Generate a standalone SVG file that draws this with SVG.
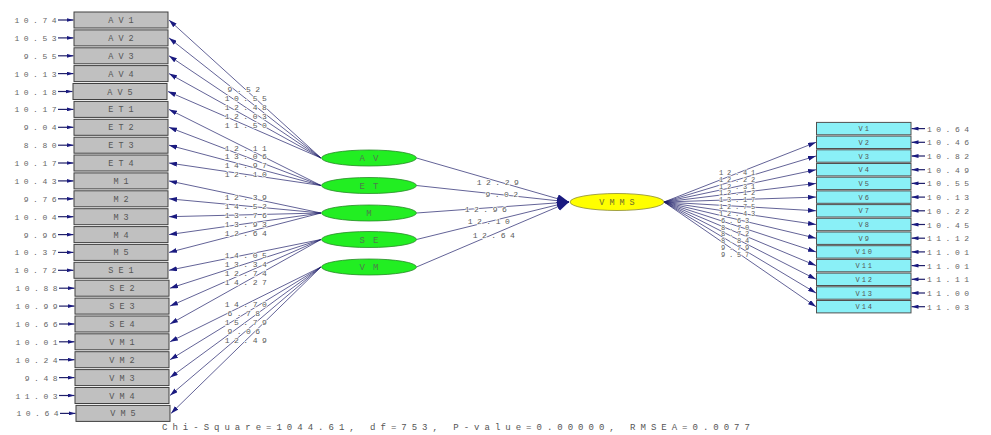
<svg xmlns="http://www.w3.org/2000/svg" width="991" height="435" viewBox="0 0 991 435">
<style>
.bg{fill:#ffffff}
.ob{fill:#c0c0c0;stroke:#404040;stroke-width:1}
.vb{fill:#8af0f7;stroke:#505050;stroke-width:1}
.lv{fill:#22ee22;stroke:#2a8a2a;stroke-width:0.8}
.vm{fill:#ffff00;stroke:#8a8a30;stroke-width:0.8}
.ln{stroke:#20206a;stroke-width:0.7;fill:none;marker-end:url(#ah)}
.lc{stroke:#20206a;stroke-width:0.7;fill:none;marker-end:url(#ahc)}
.le{stroke:#20206a;stroke-width:1.2;fill:none;marker-end:url(#ahe)}
text{font-family:"Liberation Mono","DejaVu Sans Mono",monospace}
.v{font-size:8px;letter-spacing:4.5px;fill:#666666}
.vl{font-size:8px;letter-spacing:4.5px;fill:#5a5a5a;text-anchor:middle;stroke:#ffffff;stroke-width:1.5px;paint-order:stroke}
.vr{font-size:7px;letter-spacing:3.8px;fill:#5a5a5a;text-anchor:middle;stroke:#ffffff;stroke-width:1.2px;paint-order:stroke}
.bt{font-size:8.5px;letter-spacing:5px;fill:#555555;text-anchor:middle}
.rt{font-size:7px;letter-spacing:2px;fill:#555555;text-anchor:middle}
.et{font-size:9px;letter-spacing:8px;fill:#4f7a4f;text-anchor:middle}
.yt{font-size:8.5px;letter-spacing:5px;fill:#6b6b30;text-anchor:middle}
.ft{font-size:9px;letter-spacing:5px;fill:#555555;text-anchor:middle}
</style>
<defs>
<marker id="ah" markerUnits="userSpaceOnUse" markerWidth="8" markerHeight="5" refX="8" refY="2.5" orient="auto"><path d="M0,0 L8,2.5 L0,5 z" fill="#1a1a80"/></marker>
<marker id="ahc" markerUnits="userSpaceOnUse" markerWidth="12" markerHeight="9" refX="12" refY="4.5" orient="auto"><path d="M0,0 L12,4.5 L0,9 z" fill="#1a1a80"/></marker>
<marker id="ahe" markerUnits="userSpaceOnUse" markerWidth="7" markerHeight="4" refX="7" refY="2" orient="auto"><path d="M0,0 L7,2 L0,4 z" fill="#1a1a80"/></marker>
</defs>
<rect class="bg" x="0" y="0" width="991" height="435"/>

<g id="connectors">
<line class="le" x1="58" y1="20" x2="73.5" y2="20"/>
<line class="le" x1="58" y1="37.9" x2="73.5" y2="37.9"/>
<line class="le" x1="58" y1="55.8" x2="73.5" y2="55.8"/>
<line class="le" x1="58" y1="73.6" x2="73.5" y2="73.6"/>
<line class="le" x1="58" y1="91.5" x2="72.5" y2="91.5"/>
<line class="le" x1="58" y1="109.4" x2="73.5" y2="109.4"/>
<line class="le" x1="58" y1="127.3" x2="73.5" y2="127.3"/>
<line class="le" x1="58" y1="145.2" x2="73.5" y2="145.2"/>
<line class="le" x1="58" y1="163" x2="73.5" y2="163"/>
<line class="le" x1="58" y1="180.9" x2="73.5" y2="180.9"/>
<line class="le" x1="58" y1="198.8" x2="73.5" y2="198.8"/>
<line class="le" x1="58" y1="216.7" x2="73.5" y2="216.7"/>
<line class="le" x1="58" y1="234.6" x2="73.5" y2="234.6"/>
<line class="le" x1="58" y1="252.4" x2="73.5" y2="252.4"/>
<line class="le" x1="58" y1="270.3" x2="73.5" y2="270.3"/>
<line class="le" x1="59" y1="288.2" x2="74.5" y2="288.2"/>
<line class="le" x1="59" y1="306.1" x2="74.5" y2="306.1"/>
<line class="le" x1="59" y1="324" x2="74.5" y2="324"/>
<line class="le" x1="59" y1="341.8" x2="74.5" y2="341.8"/>
<line class="le" x1="59" y1="359.7" x2="74.5" y2="359.7"/>
<line class="le" x1="59" y1="377.6" x2="74.5" y2="377.6"/>
<line class="le" x1="59" y1="395.5" x2="74.5" y2="395.5"/>
<line class="le" x1="60" y1="413.4" x2="75.5" y2="413.4"/>
<line class="ln" x1="321" y1="158" x2="169" y2="20"/>
<line class="ln" x1="321" y1="158" x2="169" y2="37.9"/>
<line class="ln" x1="321" y1="158" x2="169" y2="55.8"/>
<line class="ln" x1="321" y1="158" x2="169" y2="73.6"/>
<line class="ln" x1="321" y1="158" x2="168" y2="91.5"/>
<line class="ln" x1="321" y1="185.5" x2="169" y2="109.4"/>
<line class="ln" x1="321" y1="185.5" x2="169" y2="127.3"/>
<line class="ln" x1="321" y1="185.5" x2="169" y2="145.2"/>
<line class="ln" x1="321" y1="185.5" x2="169" y2="163"/>
<line class="ln" x1="321" y1="213" x2="169" y2="180.9"/>
<line class="ln" x1="321" y1="213" x2="169" y2="198.8"/>
<line class="ln" x1="321" y1="213" x2="169" y2="216.7"/>
<line class="ln" x1="321" y1="213" x2="169" y2="234.6"/>
<line class="ln" x1="321" y1="213" x2="169" y2="252.4"/>
<line class="ln" x1="321" y1="239.5" x2="169" y2="270.3"/>
<line class="ln" x1="321" y1="239.5" x2="170" y2="288.2"/>
<line class="ln" x1="321" y1="239.5" x2="170" y2="306.1"/>
<line class="ln" x1="321" y1="239.5" x2="170" y2="324"/>
<line class="ln" x1="321" y1="267" x2="170" y2="341.8"/>
<line class="ln" x1="321" y1="267" x2="170" y2="359.7"/>
<line class="ln" x1="321" y1="267" x2="170" y2="377.6"/>
<line class="ln" x1="321" y1="267" x2="170" y2="395.5"/>
<line class="ln" x1="321" y1="267" x2="171" y2="413.4"/>
<line class="lc" x1="416.5" y1="158" x2="569" y2="202"/>
<line class="lc" x1="416.5" y1="185.5" x2="569" y2="202"/>
<line class="lc" x1="416.5" y1="213" x2="569" y2="202"/>
<line class="lc" x1="416.5" y1="239.5" x2="569" y2="202"/>
<line class="lc" x1="416.5" y1="267" x2="569" y2="202"/>
<line class="ln" x1="664" y1="202" x2="816" y2="142.3"/>
<line class="ln" x1="664" y1="202" x2="816" y2="156"/>
<line class="ln" x1="664" y1="202" x2="816" y2="169.7"/>
<line class="ln" x1="664" y1="202" x2="816" y2="183.4"/>
<line class="ln" x1="664" y1="202" x2="816" y2="197.1"/>
<line class="ln" x1="664" y1="202" x2="816" y2="210.8"/>
<line class="ln" x1="664" y1="202" x2="816" y2="224.5"/>
<line class="ln" x1="664" y1="202" x2="816" y2="238.2"/>
<line class="ln" x1="664" y1="202" x2="816" y2="251.9"/>
<line class="ln" x1="664" y1="202" x2="816" y2="265.6"/>
<line class="ln" x1="664" y1="202" x2="816" y2="279.3"/>
<line class="ln" x1="664" y1="202" x2="816" y2="293"/>
<line class="ln" x1="664" y1="202" x2="816" y2="306.7"/>
<line class="le" x1="925" y1="128.6" x2="911.5" y2="128.6"/>
<line class="le" x1="925" y1="142.3" x2="911.5" y2="142.3"/>
<line class="le" x1="925" y1="156" x2="911.5" y2="156"/>
<line class="le" x1="925" y1="169.7" x2="911.5" y2="169.7"/>
<line class="le" x1="925" y1="183.4" x2="911.5" y2="183.4"/>
<line class="le" x1="925" y1="197.1" x2="911.5" y2="197.1"/>
<line class="le" x1="925" y1="210.8" x2="911.5" y2="210.8"/>
<line class="le" x1="925" y1="224.5" x2="911.5" y2="224.5"/>
<line class="le" x1="925" y1="238.2" x2="911.5" y2="238.2"/>
<line class="le" x1="925" y1="251.9" x2="911.5" y2="251.9"/>
<line class="le" x1="925" y1="265.6" x2="911.5" y2="265.6"/>
<line class="le" x1="925" y1="279.3" x2="911.5" y2="279.3"/>
<line class="le" x1="925" y1="293" x2="911.5" y2="293"/>
<line class="le" x1="925" y1="306.7" x2="911.5" y2="306.7"/>
<text class="vl" x="246" y="92">9.52</text>
<text class="vl" x="248" y="101">10.55</text>
<text class="vl" x="248" y="109.9">12.48</text>
<text class="vl" x="248" y="118.8">12.03</text>
<text class="vl" x="248" y="127.8">11.50</text>
<text class="vl" x="248" y="150.5">12.11</text>
<text class="vl" x="248" y="159.4">13.06</text>
<text class="vl" x="248" y="168.4">14.97</text>
<text class="vl" x="248" y="177.3">12.10</text>
<text class="vl" x="248" y="200">12.39</text>
<text class="vl" x="248" y="208.9">14.52</text>
<text class="vl" x="248" y="217.9">13.76</text>
<text class="vl" x="248" y="226.8">13.93</text>
<text class="vl" x="248" y="235.7">12.64</text>
<text class="vl" x="248" y="257.9">14.05</text>
<text class="vl" x="248" y="266.9">13.34</text>
<text class="vl" x="248" y="275.8">12.74</text>
<text class="vl" x="248" y="284.8">14.27</text>
<text class="vl" x="248" y="307.4">14.70</text>
<text class="vl" x="246" y="316.4">6.78</text>
<text class="vl" x="248" y="325.3">15.79</text>
<text class="vl" x="246" y="334.3">9.06</text>
<text class="vl" x="248" y="343.2">12.49</text>
<text class="vl" x="500" y="184.5">12.29</text>
<text class="vl" x="504" y="197">9.02</text>
<text class="vl" x="488" y="211.5">12.96</text>
<text class="vl" x="491" y="224">12.10</text>
<text class="vl" x="496" y="238">12.64</text>
<text class="vr" x="739" y="174.8">12.41</text>
<text class="vr" x="739" y="181.6">12.22</text>
<text class="vr" x="739" y="188.5">12.31</text>
<text class="vr" x="739" y="195.3">12.12</text>
<text class="vr" x="739" y="202.2">13.17</text>
<text class="vr" x="739" y="209">12.75</text>
<text class="vr" x="739" y="215.9">12.43</text>
<text class="vr" x="737" y="222.7">6.63</text>
<text class="vr" x="737" y="229.6">8.70</text>
<text class="vr" x="737" y="236.4">8.72</text>
<text class="vr" x="737" y="243.3">8.84</text>
<text class="vr" x="737" y="250.1">9.79</text>
<text class="vr" x="737" y="257">9.57</text>
</g>

<g id="AV1"><rect class="ob" x="74" y="12" width="94" height="16"/><text class="bt" x="123.5" y="23">AV1</text><text class="v" x="61" y="23" text-anchor="end">10.74</text></g>
<g id="AV2"><rect class="ob" x="74" y="29.9" width="94" height="16"/><text class="bt" x="123.5" y="40.9">AV2</text><text class="v" x="61" y="40.9" text-anchor="end">10.53</text></g>
<g id="AV3"><rect class="ob" x="74" y="47.8" width="94" height="16"/><text class="bt" x="123.5" y="58.8">AV3</text><text class="v" x="61" y="58.8" text-anchor="end">9.55</text></g>
<g id="AV4"><rect class="ob" x="74" y="65.6" width="94" height="16"/><text class="bt" x="123.5" y="76.6">AV4</text><text class="v" x="61" y="76.6" text-anchor="end">10.13</text></g>
<g id="AV5"><rect class="ob" x="73" y="83.5" width="94" height="16"/><text class="bt" x="122.5" y="94.5">AV5</text><text class="v" x="61" y="94.5" text-anchor="end">10.18</text></g>
<g id="ET1"><rect class="ob" x="74" y="101.4" width="94" height="16"/><text class="bt" x="123.5" y="112.4">ET1</text><text class="v" x="61" y="112.4" text-anchor="end">10.17</text></g>
<g id="ET2"><rect class="ob" x="74" y="119.3" width="94" height="16"/><text class="bt" x="123.5" y="130.3">ET2</text><text class="v" x="61" y="130.3" text-anchor="end">9.04</text></g>
<g id="ET3"><rect class="ob" x="74" y="137.2" width="94" height="16"/><text class="bt" x="123.5" y="148.2">ET3</text><text class="v" x="61" y="148.2" text-anchor="end">8.80</text></g>
<g id="ET4"><rect class="ob" x="74" y="155" width="94" height="16"/><text class="bt" x="123.5" y="166">ET4</text><text class="v" x="61" y="166" text-anchor="end">10.17</text></g>
<g id="M1"><rect class="ob" x="74" y="172.9" width="94" height="16"/><text class="bt" x="123.5" y="183.9">M1</text><text class="v" x="61" y="183.9" text-anchor="end">10.43</text></g>
<g id="M2"><rect class="ob" x="74" y="190.8" width="94" height="16"/><text class="bt" x="123.5" y="201.8">M2</text><text class="v" x="61" y="201.8" text-anchor="end">9.76</text></g>
<g id="M3"><rect class="ob" x="74" y="208.7" width="94" height="16"/><text class="bt" x="123.5" y="219.7">M3</text><text class="v" x="61" y="219.7" text-anchor="end">10.04</text></g>
<g id="M4"><rect class="ob" x="74" y="226.6" width="94" height="16"/><text class="bt" x="123.5" y="237.6">M4</text><text class="v" x="61" y="237.6" text-anchor="end">9.96</text></g>
<g id="M5"><rect class="ob" x="74" y="244.4" width="94" height="16"/><text class="bt" x="123.5" y="255.4">M5</text><text class="v" x="61" y="255.4" text-anchor="end">10.37</text></g>
<g id="SE1"><rect class="ob" x="74" y="262.3" width="94" height="16"/><text class="bt" x="123.5" y="273.3">SE1</text><text class="v" x="61" y="273.3" text-anchor="end">10.72</text></g>
<g id="SE2"><rect class="ob" x="75" y="280.2" width="94" height="16"/><text class="bt" x="124.5" y="291.2">SE2</text><text class="v" x="62" y="291.2" text-anchor="end">10.88</text></g>
<g id="SE3"><rect class="ob" x="75" y="298.1" width="94" height="16"/><text class="bt" x="124.5" y="309.1">SE3</text><text class="v" x="62" y="309.1" text-anchor="end">10.99</text></g>
<g id="SE4"><rect class="ob" x="75" y="316" width="94" height="16"/><text class="bt" x="124.5" y="327">SE4</text><text class="v" x="62" y="327" text-anchor="end">10.66</text></g>
<g id="VM1"><rect class="ob" x="75" y="333.8" width="94" height="16"/><text class="bt" x="124.5" y="344.8">VM1</text><text class="v" x="62" y="344.8" text-anchor="end">10.01</text></g>
<g id="VM2"><rect class="ob" x="75" y="351.7" width="94" height="16"/><text class="bt" x="124.5" y="362.7">VM2</text><text class="v" x="62" y="362.7" text-anchor="end">10.24</text></g>
<g id="VM3"><rect class="ob" x="75" y="369.6" width="94" height="16"/><text class="bt" x="124.5" y="380.6">VM3</text><text class="v" x="62" y="380.6" text-anchor="end">9.48</text></g>
<g id="VM4"><rect class="ob" x="75" y="387.5" width="94" height="16"/><text class="bt" x="124.5" y="398.5">VM4</text><text class="v" x="62" y="398.5" text-anchor="end">11.03</text></g>
<g id="VM5"><rect class="ob" x="76" y="405.4" width="94" height="16"/><text class="bt" x="125.5" y="416.4">VM5</text><text class="v" x="63" y="416.4" text-anchor="end">10.64</text></g>

<g id="AV"><ellipse class="lv" cx="369" cy="158" rx="47.5" ry="8"/><text class="et" x="373" y="161">AV</text></g>
<g id="ET"><ellipse class="lv" cx="369" cy="185.5" rx="47.5" ry="8"/><text class="et" x="373" y="188.5">ET</text></g>
<g id="M"><ellipse class="lv" cx="369" cy="213" rx="47.5" ry="8"/><text class="et" x="373" y="216">M</text></g>
<g id="SE"><ellipse class="lv" cx="369" cy="239.5" rx="47.5" ry="8"/><text class="et" x="373" y="242.5">SE</text></g>
<g id="VM"><ellipse class="lv" cx="369" cy="267" rx="47.5" ry="8"/><text class="et" x="373" y="270">VM</text></g>

<g id="VMMS"><ellipse class="vm" cx="617" cy="202" rx="47" ry="8.5"/><text class="yt" x="619.5" y="205">VMMS</text></g>

<g id="V1"><rect class="vb" x="816.5" y="122.4" width="94.5" height="12.4"/><text class="rt" x="864.75" y="131.1">V1</text><text class="v" x="927" y="131.6">10.64</text></g>
<g id="V2"><rect class="vb" x="816.5" y="136.1" width="94.5" height="12.4"/><text class="rt" x="864.75" y="144.8">V2</text><text class="v" x="927" y="145.3">10.46</text></g>
<g id="V3"><rect class="vb" x="816.5" y="149.8" width="94.5" height="12.4"/><text class="rt" x="864.75" y="158.5">V3</text><text class="v" x="927" y="159">10.82</text></g>
<g id="V4"><rect class="vb" x="816.5" y="163.5" width="94.5" height="12.4"/><text class="rt" x="864.75" y="172.2">V4</text><text class="v" x="927" y="172.7">10.49</text></g>
<g id="V5"><rect class="vb" x="816.5" y="177.2" width="94.5" height="12.4"/><text class="rt" x="864.75" y="185.9">V5</text><text class="v" x="927" y="186.4">10.55</text></g>
<g id="V6"><rect class="vb" x="816.5" y="190.9" width="94.5" height="12.4"/><text class="rt" x="864.75" y="199.6">V6</text><text class="v" x="927" y="200.1">10.13</text></g>
<g id="V7"><rect class="vb" x="816.5" y="204.6" width="94.5" height="12.4"/><text class="rt" x="864.75" y="213.3">V7</text><text class="v" x="927" y="213.8">10.22</text></g>
<g id="V8"><rect class="vb" x="816.5" y="218.3" width="94.5" height="12.4"/><text class="rt" x="864.75" y="227">V8</text><text class="v" x="927" y="227.5">10.45</text></g>
<g id="V9"><rect class="vb" x="816.5" y="232" width="94.5" height="12.4"/><text class="rt" x="864.75" y="240.7">V9</text><text class="v" x="927" y="241.2">11.12</text></g>
<g id="V10"><rect class="vb" x="816.5" y="245.7" width="94.5" height="12.4"/><text class="rt" x="864.75" y="254.4">V10</text><text class="v" x="927" y="254.9">11.01</text></g>
<g id="V11"><rect class="vb" x="816.5" y="259.4" width="94.5" height="12.4"/><text class="rt" x="864.75" y="268.1">V11</text><text class="v" x="927" y="268.6">11.01</text></g>
<g id="V12"><rect class="vb" x="816.5" y="273.1" width="94.5" height="12.4"/><text class="rt" x="864.75" y="281.8">V12</text><text class="v" x="927" y="282.3">11.11</text></g>
<g id="V13"><rect class="vb" x="816.5" y="286.8" width="94.5" height="12.4"/><text class="rt" x="864.75" y="295.5">V13</text><text class="v" x="927" y="296">11.00</text></g>
<g id="V14"><rect class="vb" x="816.5" y="300.5" width="94.5" height="12.4"/><text class="rt" x="864.75" y="309.2">V14</text><text class="v" x="927" y="309.7">11.03</text></g>

<g id="fit"><text class="ft" x="458.5" y="430">Chi-Square=1044.61, df=753, P-value=0.00000, RMSEA=0.0077</text></g>
</svg>
